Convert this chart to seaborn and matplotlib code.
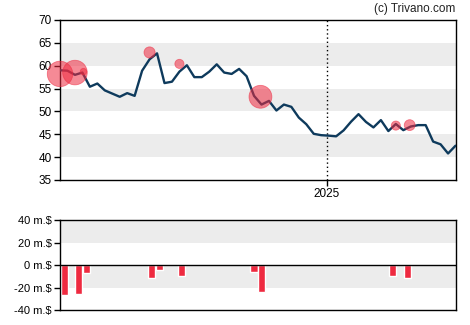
import matplotlib
matplotlib.use("Agg")
import matplotlib.pyplot as plt
import matplotlib.dates as mdates
import numpy as np
import pandas as pd
import seaborn as sns

# ---- data -------------------------------------------------------------
start_date = "2024-04-26"

# weekly closing price
price = [
    59.0, 58.9, 58.0, 58.5, 55.4, 56.1, 54.6, 53.9, 53.2, 54.0,
    53.4, 58.9, 61.4, 62.7, 56.2, 56.5, 58.7, 60.1, 57.5, 57.5,
    58.7, 60.3, 58.5, 58.2, 59.3, 57.7, 53.4, 51.5, 52.3, 50.2,
    51.5, 51.0, 48.65, 47.2, 45.1, 44.8, 44.7, 44.55, 45.85, 47.75,
    49.4, 47.7, 46.5, 48.1, 45.7, 47.25, 45.9, 46.7, 47.0, 47.0,
    43.4, 42.8, 40.8, 42.5,
]

# insider transactions (m.$)
trade_dates = [
    "2024-04-30", "2024-05-13", "2024-05-21", "2024-07-21", "2024-07-28",
    "2024-08-18", "2024-10-25", "2024-11-01", "2025-03-04", "2025-03-18",
]
trade_values = [-26.5, -25.6, -6.8, -11.6, -4.2, -9.5, -5.9, -23.8, -9.5, -11.3]

# transaction markers on the price chart (circle size ~ transaction volume)
marker_dates = [
    "2024-04-26", "2024-05-10", "2024-05-18", "2024-07-19",
    "2024-08-16", "2024-10-31", "2025-03-07", "2025-03-20",
]
marker_prices = [58.2, 58.5, 58.7, 62.9, 60.4, 53.2, 46.9, 47.0]
marker_values = [-26.5, -25.6, -6.8, -11.6, -9.5, -23.8, -9.5, -11.3]

price_ticks = [35, 40, 45, 50, 55, 60, 65, 70]
flow_ticks = [-40, -20, 0, 20, 40]
flow_tick_labels = ["-40 m.$", "-20 m.$", "0 m.$", "20 m.$", "40 m.$"]
year_tick = "2025-01-01"
year_label = "2025"
credit = "(c) Trivano.com"

# ---- styling ------------------------------------------------------------
sns.set_style("ticks")
plt.rcParams["font.family"] = ["Liberation Sans", "DejaVu Sans"]
plt.rcParams["font.size"] = 8.5

LINE = "#0e3a5c"
RED = "#ee2a40"
BAND = "#ececec"

dates = pd.date_range(start_date, periods=len(price), freq="7D")
x_price = mdates.date2num(dates)
x_trade = mdates.date2num(pd.to_datetime(trade_dates))
x_marker = mdates.date2num(pd.to_datetime(marker_dates))
x_year = mdates.date2num(pd.Timestamp(year_tick))
xlim = (x_price[0], x_price[-1])

fig = plt.figure(figsize=(4.7, 3.25), dpi=100)
ax = fig.add_axes([0.1277, 0.4462, 0.8415, 0.4923])
axb = fig.add_axes([0.1277, 0.0462, 0.8415, 0.2760])

# ---- price panel ------------------------------------------------------
for lo in (40, 50, 60):
    ax.axhspan(lo, lo + 5, color=BAND, lw=0, zorder=0)
ax.axvline(x_year, color="black", lw=1.0, ls=(0, (1, 2)), zorder=1)

sns.lineplot(x=x_price, y=price, ax=ax, color=LINE, lw=1.7, zorder=3)

radius_px = 0.48 * np.abs(np.array(marker_values))
sizes = (2 * radius_px * 0.72) ** 2
sns.scatterplot(x=x_marker, y=marker_prices, ax=ax, s=sizes, color=RED,
                alpha=0.55, edgecolor=RED, linewidth=0.6, zorder=4,
                clip_on=False, legend=False)

ax.set_xlim(*xlim)
ax.set_ylim(35, 70)
ax.set_yticks(price_ticks)
ax.set_xticks([x_year])
ax.set_xticklabels([year_label])
ax.set_xlabel("")
ax.set_ylabel("")
for s in ax.spines.values():
    s.set_visible(True)
    s.set_color("black")
    s.set_linewidth(1.0)
ax.tick_params(axis="both", length=4.5, width=1.0, pad=1.5,
               labelsize=8.5, colors="black")

fig.text(0.969, 0.972, credit, ha="right", va="center", fontsize=8.5,
         color="#222222")

# ---- transaction panel --------------------------------------------------
axb.axhspan(20, 40, color=BAND, lw=0, zorder=0)
axb.axhspan(-20, 0, color=BAND, lw=0, zorder=0)
sns.barplot(x=x_trade, y=trade_values, ax=axb, native_scale=True, orient="x",
            width=0.95, color=RED, saturation=1, errorbar=None, zorder=2)
axb.axhline(0, color="black", lw=1.0, zorder=3)

axb.set_xlim(*xlim)
axb.set_ylim(-40, 40)
axb.set_yticks(flow_ticks)
axb.set_yticklabels(flow_tick_labels)
axb.set_xticks([])
axb.set_xlabel("")
axb.set_ylabel("")
for s in axb.spines.values():
    s.set_visible(True)
    s.set_color("black")
    s.set_linewidth(1.0)
axb.tick_params(axis="y", length=4.5, width=1.0, pad=1.5, labelsize=8,
                colors="black")

fig.savefig("out.png", dpi=100)
